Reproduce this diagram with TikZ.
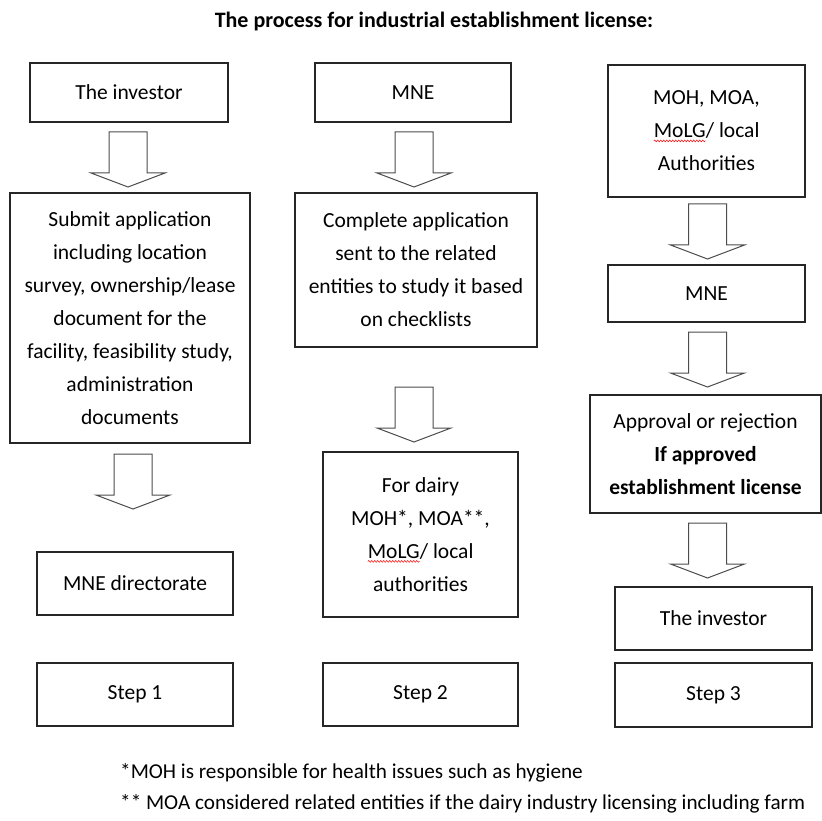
\documentclass[tikz,border=0pt]{standalone}
\usepackage{fontspec}
\setmainfont{Carlito}
\usetikzlibrary{decorations.pathmorphing}
\newcommand\wavyword[1]{\tikz[baseline=(w.base),x=1cm,y=1cm]{\node[draw=none,inner sep=0pt,outer sep=0pt,minimum width=0pt,minimum height=0pt](w){#1};\draw[red,line width=0.5pt,decorate,decoration={snake,amplitude=0.9pt,segment length=3pt}] ([yshift=-3pt]w.base west) -- ([yshift=-3pt]w.base east);}}
\tikzset{
  box/.style={draw=black!85, line width=1.1pt, align=center, inner sep=0pt,
              font=\fontsize{21.5}{33}\selectfont},
  arrowline/.style={draw=black!70, line width=1pt, line join=miter},
  barrow/.pic={\draw[arrowline] (-19,0) -- (19,0) -- (19,41) -- (37,41) -- (0,55) -- (-37,41) -- (-19,41) -- cycle;},
  note/.style={anchor=base west, inner sep=0pt, font=\fontsize{21.2}{24}\selectfont}
}
\begin{document}
\begin{tikzpicture}[x=1pt,y=-1pt]
\useasboundingbox (0,0) rectangle (822,821);
\node[font=\fontsize{22}{26}\selectfont\bfseries, inner sep=0pt] (title) at (434,22) {The process for industrial establishment license:};
% column 1
\node[box, minimum width=198pt, minimum height=59pt] (inv1) at (129,92.5) {The investor};
\node[box, minimum width=240pt, minimum height=250pt] (sub1) at (130,318) {Submit application\\including location\\survey, ownership/lease\\document for the\\facility, feasibility study,\\administration\\documents};
\node[box, minimum width=196pt, minimum height=63pt] (mned) at (135,583.5) {MNE directorate};
\node[box, minimum width=196pt, minimum height=63pt] (step1) at (135,694.5) {Step 1};
% column 2
\node[box, minimum width=196pt, minimum height=59pt] (mne2) at (413,92.5) {MNE};
\node[box, minimum width=242pt, minimum height=154pt] (comp) at (416,270) {Complete application\\sent to the related\\entities to study it based\\on checklists};
\node[box, minimum width=195pt, minimum height=165pt] (dairy) at (420.5,534.5) {For dairy\\MOH*, MOA**,\\\wavyword{MoLG}/ local\\authorities};
\node[box, minimum width=195pt, minimum height=63pt] (step2) at (420.5,694.5) {Step 2};
% column 3
\node[box, minimum width=197pt, minimum height=132pt] (moh) at (706.5,131) {MOH, MOA,\\\wavyword{MoLG}/ local\\Authorities};
\node[box, minimum width=197pt, minimum height=57pt] (mne3) at (706.5,293.5) {MNE};
\node[box, minimum width=231pt, minimum height=118pt] (appr) at (705.5,454) {Approval or rejection\\\textbf{If approved}\\\textbf{establishment license}};
\node[box, minimum width=197pt, minimum height=63pt] (inv3) at (713.5,618.5) {The investor};
\node[box, minimum width=197pt, minimum height=64pt] (step3) at (713.5,695) {Step 3};
% block arrows
\pic at (128,132) {barrow};
\pic at (133,454) {barrow};
\pic at (414,132) {barrow};
\pic at (414,387) {barrow};
\pic at (707.5,204) {barrow};
\pic at (707.5,332) {barrow};
\pic at (707.5,523) {barrow};
% footnotes
\node[note] (fn1) at (120,778) {*MOH is responsible for health issues such as hygiene};
\node[note] (fn2) at (120,809) {** MOA considered related entities if the dairy industry licensing including farm};
\end{tikzpicture}
\end{document}
